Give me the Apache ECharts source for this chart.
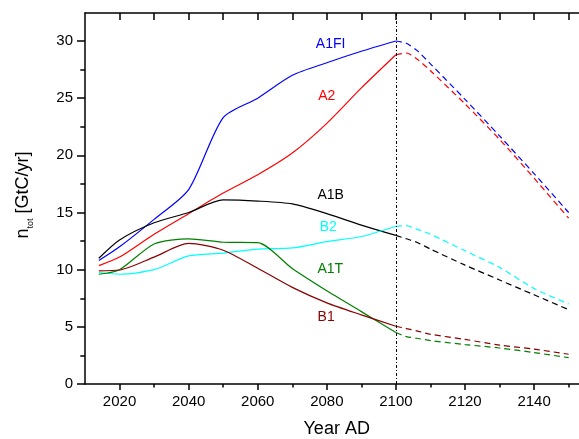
<!DOCTYPE html>
<html>
<head>
<meta charset="utf-8">
<script src="https://cdn.jsdelivr.net/npm/echarts@6/dist/echarts.min.js"></script>
<style>html,body{margin:0;padding:0;background:#fff;}#c{width:579px;height:439px;}</style>
</head>
<body>
<div id="c"></div>
<script>
// ---- data ----
const yearsHist = [2014, 2020, 2030, 2040, 2050, 2060, 2070, 2080, 2090, 2100];
const yearsProj = [2100, 2103, 2106, 2110, 2120, 2130, 2140, 2150];

const A1FI_hist = [10.8, 12.0, 14.4, 17.0, 23.3, 25.0, 27.0, 28.1, 29.1, 30.0];
const A2_hist   = [10.35, 11.1, 13.1, 14.9, 16.7, 18.3, 20.2, 22.8, 25.9, 28.8];
const A1B_hist  = [11.0, 12.6, 14.1, 15.0, 16.1, 16.0, 15.75, 14.9, 13.9, 13.0];
const B2_hist   = [9.75, 9.6, 10.0, 11.2, 11.45, 11.8, 11.9, 12.45, 12.9, 13.8];
const A1T_hist  = [9.6, 10.0, 12.25, 12.7, 12.4, 12.36, 10.1, 8.15, 6.33, 4.5];
const B1_hist   = [9.9, 9.97, 11.1, 12.3, 11.7, 10.12, 8.45, 7.1, 6.05, 5.05];

const A1FI_proj = [30.0, 29.8, 29.2, 28.0, 24.9, 21.7, 18.4, 15.0];
const A2_proj   = [28.8, 28.95, 28.45, 27.4, 24.5, 21.4, 18.0, 14.5];
const A1B_proj  = [13.0, 12.7, 12.4, 11.8, 10.4, 9.1, 7.8, 6.5];
const B2_proj   = [13.8, 13.85, 13.55, 13.1, 11.65, 10.2, 8.35, 7.0];
const A1T_proj  = [4.5, 4.15, 4.0, 3.8, 3.45, 3.15, 2.75, 2.3];
const B1_proj   = [5.05, 4.85, 4.65, 4.35, 3.9, 3.4, 3.05, 2.6];

const scenarioNames = ['A1FI', 'A2', 'A1B', 'B2', 'A1T', 'B1'];
const labelYears  = [2081.1, 2080.0, 2081.1, 2080.4, 2081.0, 2079.8];
const labelValues = [29.75, 25.2, 16.5, 13.7, 10.06, 5.83];

const xLabelTicks  = [2020, 2040, 2060, 2080, 2100, 2120, 2140];
const xMinorTicks  = [2030, 2050, 2070, 2090, 2110, 2130, 2150];
const xTopTicks    = [2020, 2030, 2040, 2050, 2060, 2070, 2080, 2090, 2100, 2110, 2120, 2130, 2140, 2150];
const yLabelTicks  = [0, 5, 10, 15, 20, 25, 30];
const yMinorTicks  = [2.5, 7.5, 12.5, 17.5, 22.5, 27.5];
const dividerYear  = 2100;

// ---- styles ----
const colors = ['#0000ff', '#ff0000', '#000000', '#00ffff', '#008000', '#8b0000'];
const histData = [A1FI_hist, A2_hist, A1B_hist, B2_hist, A1T_hist, B1_hist];
const projData = [A1FI_proj, A2_proj, A1B_proj, B2_proj, A1T_proj, B1_proj];
const FONT = 'Liberation Sans, Arial, sans-serif';

const pairs = (xs, ys) => xs.map((x, i) => [x, ys[i]]);

const series = [];
scenarioNames.forEach((name, i) => {
  series.push({
    name: name, type: 'line', xAxisIndex: 0, yAxisIndex: 0,
    data: pairs(yearsHist, histData[i]), showSymbol: false, symbol: 'none',
    smooth: 0.25,
    lineStyle: { color: colors[i], width: 1.2 },
    markPoint: {
      symbol: 'circle', symbolSize: 0, silent: true,
      data: [{ coord: [labelYears[i], labelValues[i]], value: name }],
      label: { show: true, position: 'inside', formatter: name, color: colors[i], fontSize: 14, fontFamily: FONT }
    }
  });
  series.push({
    name: name + ' proj', type: 'line', xAxisIndex: 0, yAxisIndex: 0,
    data: pairs(yearsProj, projData[i]), showSymbol: false, symbol: 'none',
    smooth: 0.25,
    lineStyle: { color: colors[i], width: 1.2, type: [6, 4] }
  });
});
series[0].markLine = {
  silent: true, symbol: ['none', 'none'], label: { show: false },
  lineStyle: { color: '#000', width: 1, type: [3, 2, 1, 2] },
  data: [{ xAxis: dividerYear }]
};

const xMin = 2010, xMax = 2153, yMin = 0, yMax = 32.45;
const axisBlack = { color: '#000', width: 1.5 };
const plainNum = v => String(v);

const option = {
  animation: false,
  backgroundColor: '#fff',
  grid: { left: 85, top: 13, width: 495.5, height: 371, containLabel: false },
  xAxis: [
    { type: 'value', position: 'bottom', min: xMin, max: xMax,
      axisLine: { show: true, onZero: false, lineStyle: axisBlack },
      axisTick: { show: true, customValues: xLabelTicks, length: 6, lineStyle: axisBlack },
      axisLabel: { show: true, customValues: xLabelTicks, formatter: plainNum, fontSize: 15, color: '#000', fontFamily: FONT, margin: 10 },
      splitLine: { show: false } },
    { type: 'value', position: 'bottom', min: xMin, max: xMax,
      axisLine: { show: false },
      axisTick: { show: true, customValues: xMinorTicks, length: 3.5, lineStyle: axisBlack },
      axisLabel: { show: false }, splitLine: { show: false } },
    { type: 'value', position: 'top', min: xMin, max: xMax,
      axisLine: { show: true, onZero: false, lineStyle: axisBlack },
      axisTick: { show: true, inside: true, customValues: xTopTicks, length: 7, lineStyle: axisBlack },
      axisLabel: { show: false }, splitLine: { show: false } }
  ],
  yAxis: [
    { type: 'value', position: 'left', min: yMin, max: yMax,
      axisLine: { show: true, onZero: false, lineStyle: axisBlack },
      axisTick: { show: true, customValues: yLabelTicks, length: 8, lineStyle: axisBlack },
      axisLabel: { show: true, customValues: yLabelTicks, formatter: plainNum, fontSize: 15, color: '#000', fontFamily: FONT, margin: 12 },
      splitLine: { show: false } },
    { type: 'value', position: 'left', min: yMin, max: yMax,
      axisLine: { show: false },
      axisTick: { show: true, customValues: yMinorTicks, length: 4.7, lineStyle: axisBlack },
      axisLabel: { show: false }, splitLine: { show: false } }
  ],
  graphic: [
    { type: 'text', x: 336.7, y: 429, silent: true,
      style: { text: 'Year AD', fontSize: 18, fontFamily: FONT, fill: '#000', align: 'center', verticalAlign: 'middle' } },
    { type: 'text', x: 23, y: 195, rotation: Math.PI / 2, silent: true,
      style: {
        text: '{n|n}{s|tot}{n| [GtC/yr]}', align: 'center', verticalAlign: 'middle',
        rich: {
          n: { fontSize: 18, fontFamily: FONT, fill: '#000' },
          s: { fontSize: 9, fontFamily: FONT, fill: '#000', padding: [16, 0, 0, 0] }
        }
      } }
  ],
  series: series
};

const chart = echarts.init(document.getElementById('c'), null, { renderer: 'canvas' });
chart.setOption(option);
</script>
</body>
</html>
